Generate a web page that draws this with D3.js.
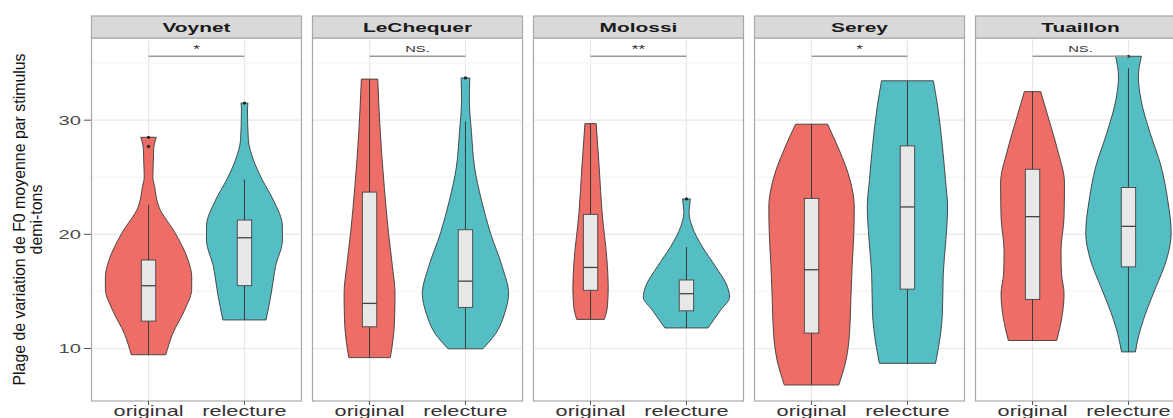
<!DOCTYPE html>
<html><head><meta charset="utf-8">
<script src="https://cdn.jsdelivr.net/npm/d3@7"></script>
<style>body{margin:0;background:#fff;} svg{display:block;font-family:"Liberation Sans",Arial,sans-serif;}</style>
</head><body><svg id="chart" width="1173" height="418"></svg>
<script>
// ---------- DATA ----------
const speakers = ["Voynet", "LeChequer", "Molossi", "Serey", "Tuaillon"];
const conditions = ["original", "relecture"];
const significance = ["*", "NS.", "**", "*", "NS."];
const yTicks = [10, 20, 30];
const yMinorTicks = [15, 25, 35];
const yTitleLines = ["Plage de variation de F0 moyenne par stimulus", "demi-tons"];

// violin profiles: [value (demi-tons), relative density]
const violinVoynetOriginal = [[28.5,.18],[27.5,.12],[26.2,.11],[25,.10],[24.2,.14],[22.4,.24],[20.1,.62],[17.7,.92],[16.3,1],[15.2,1],[13.4,.84],[11.3,.56],[9.45,.40]];
const violinVoynetRelecture = [[31.5,.08],[30.9,.07],[28.3,.09],[26.5,.21],[24.8,.41],[23,.67],[20.7,.88],[19.5,.88],[17.2,.72],[14.8,.62],[12.5,.50]];
const violinLeChequerOriginal = [[33.6,.19],[28.9,.25],[24.2,.34],[20.1,.44],[17.2,.53],[14.8,.59],[12.5,.58],[10.1,.52],[9.2,.48]];
const violinLeChequerRelecture = [[33.7,.10],[31.8,.09],[28.9,.14],[25.9,.21],[23,.37],[20.1,.58],[17.2,.85],[14.8,1],[13.1,.91],[11.3,.70],[9.97,.40]];
const violinMolossiOriginal = [[29.7,.13],[25.9,.20],[21.8,.27],[17.75,.38],[15.4,.41],[13.65,.39],[12.55,.32]];
const violinMolossiRelecture = [[23.1,.09],[22.4,.07],[21.9,.06],[20.7,.13],[18.9,.37],[17.2,.67],[15.4,.95],[14.5,1],[13.35,.79],[11.8,.50]];
const violinSereyOriginal = [[29.65,.37],[27.4,.64],[24.8,.89],[22.4,.99],[20.1,.98],[17.2,.94],[14.2,.91],[11.3,.88],[9.0,.80],[6.8,.63]];
const violinSereyRelecture = [[33.45,.60],[31.2,.70],[27.7,.81],[24.8,.88],[22.4,.93],[19.5,.89],[16.6,.83],[13.1,.81],[10.1,.72],[8.7,.65]];
const violinTuaillonOriginal = [[32.5,.19],[30.3,.36],[27.4,.58],[24.5,.74],[21.5,.73],[18.6,.66],[16.6,.67],[14.8,.73],[12.5,.67],[10.7,.56]];
const violinTuaillonRelecture = [[35.6,.30],[33.8,.23],[31.8,.29],[28.9,.50],[25.9,.76],[23,.91],[20.1,.99],[17.75,.88],[15.4,.64],[13.1,.40],[11,.23],[9.7,.16]];

// box stats: [lower whisker, Q1, median, Q3, upper whisker]
const boxVoynetOriginal = [9.45, 12.4, 15.5, 17.75, 22.6];
const boxVoynetRelecture = [12.5, 15.5, 19.7, 21.25, 24.8];
const boxLeChequerOriginal = [9.2, 11.9, 13.95, 23.7, 33.6];
const boxLeChequerRelecture = [10.0, 13.6, 15.9, 20.4, 29.9];
const boxMolossiOriginal = [12.55, 15.1, 17.1, 21.75, 29.7];
const boxMolossiRelecture = [11.8, 13.3, 14.8, 16.0, 18.9];
const boxSereyOriginal = [6.8, 11.35, 16.9, 23.15, 29.65];
const boxSereyRelecture = [8.7, 15.2, 22.4, 27.75, 33.45];
const boxTuaillonOriginal = [10.7, 14.3, 21.55, 25.7, 32.5];
const boxTuaillonRelecture = [9.7, 17.15, 20.7, 24.1, 34.55];

// outliers
const outVoynetOriginal = [28.5, 27.7];
const outVoynetRelecture = [31.5];
const outLeChequerOriginal = [];
const outLeChequerRelecture = [33.7];
const outMolossiOriginal = [];
const outMolossiRelecture = [23.1];
const outSereyOriginal = [];
const outSereyRelecture = [];
const outTuaillonOriginal = [];
const outTuaillonRelecture = [35.6];

const bracketValue = 35.6;

const violins = [
  [violinVoynetOriginal, violinVoynetRelecture],
  [violinLeChequerOriginal, violinLeChequerRelecture],
  [violinMolossiOriginal, violinMolossiRelecture],
  [violinSereyOriginal, violinSereyRelecture],
  [violinTuaillonOriginal, violinTuaillonRelecture]
];
const boxes = [
  [boxVoynetOriginal, boxVoynetRelecture],
  [boxLeChequerOriginal, boxLeChequerRelecture],
  [boxMolossiOriginal, boxMolossiRelecture],
  [boxSereyOriginal, boxSereyRelecture],
  [boxTuaillonOriginal, boxTuaillonRelecture]
];
const outliers = [
  [outVoynetOriginal, outVoynetRelecture],
  [outLeChequerOriginal, outLeChequerRelecture],
  [outMolossiOriginal, outMolossiRelecture],
  [outSereyOriginal, outSereyRelecture],
  [outTuaillonOriginal, outTuaillonRelecture]
];

// ---------- LAYOUT ----------
const svg = d3.select("#chart");
const SX = 1.55; // horizontal text stretch seen in the reference
const stripTop = 16, panelTop = 38, panelBottom = 401;
const facetX = d3.scaleBand().domain(speakers).range([91, 1186]).paddingInner(10 / 221).paddingOuter(0);
const pw = facetX.bandwidth();
const xCat = d3.scalePoint().domain(conditions).range([0, pw]).padding(0.6);
const step = xCat.step();
const y = d3.scaleLinear().domain([5.4, 37.2]).range([panelBottom, panelTop]);
const wScale = d3.scaleLinear().domain([0, 1]).range([0, 0.45 * step]);
const fills = d3.scaleOrdinal().domain(conditions).range(["#EE6D66", "#55BEC4"]);

function sText(g, x, yy, str, size, anchor, fill, weight) {
  return g.append("text")
    .attr("transform", `translate(${x},${yy}) scale(${SX},1)`)
    .attr("text-anchor", anchor).attr("font-size", size)
    .attr("fill", fill).attr("font-weight", weight || "normal")
    .text(str);
}

// y-axis title
const titleG = svg.append("g");
const cy = (panelTop + panelBottom) / 2;
[25, 42].forEach((bx, i) => {
  titleG.append("text")
    .attr("transform", `translate(${bx},${cy}) scale(1.12,1.12) rotate(-90)`)
    .attr("text-anchor", "middle").attr("font-size", 14.2).attr("fill", "#111")
    .text(yTitleLines[i]);
});

// y tick labels and ticks
const yAxisG = svg.append("g");
yTicks.forEach(t => {
  sText(yAxisG, 81, y(t) + 5, String(t), 13, "end", "#4d4d4d");
  yAxisG.append("line").attr("x1", 84).attr("x2", facetX(speakers[0])).attr("y1", y(t)).attr("y2", y(t))
    .attr("stroke", "#555").attr("stroke-width", 1);
});

const violinArea = d3.area()
  .curve(d3.curveMonotoneY);

speakers.forEach((sp, si) => {
  const x0 = facetX(sp);
  const g = svg.append("g").attr("transform", `translate(${x0},0)`);
  // panel bg
  g.append("rect").attr("x", 0).attr("y", panelTop).attr("width", pw).attr("height", panelBottom - panelTop).attr("fill", "#fff");
  // minor grid
  yMinorTicks.forEach(t => g.append("line").attr("x1", 0).attr("x2", pw).attr("y1", y(t)).attr("y2", y(t)).attr("stroke", "#f4f4f4").attr("stroke-width", 1));
  yTicks.forEach(t => g.append("line").attr("x1", 0).attr("x2", pw).attr("y1", y(t)).attr("y2", y(t)).attr("stroke", "#e8e8e8").attr("stroke-width", 1.2));
  conditions.forEach(c => g.append("line").attr("x1", xCat(c)).attr("x2", xCat(c)).attr("y1", panelTop).attr("y2", panelBottom).attr("stroke", "#e8e8e8").attr("stroke-width", 1.2));

  conditions.forEach((c, ci) => {
    const cx = xCat(c);
    const prof = violins[si][ci];
    g.append("path")
      .attr("d", violinArea
        .y(d => y(d[0]))
        .x0(d => cx - wScale(d[1]))
        .x1(d => cx + wScale(d[1]))(prof) + "")
      .attr("fill", fills(c)).attr("stroke", "#3a3a3a").attr("stroke-width", 0.9);
    const b = boxes[si][ci];
    const bw = 0.15 * step;
    g.append("line").attr("x1", cx).attr("x2", cx).attr("y1", y(b[0])).attr("y2", y(b[4]))
      .attr("stroke", "#3a3a3a").attr("stroke-width", 1);
    g.append("rect").attr("x", cx - bw / 2).attr("width", bw).attr("y", y(b[3])).attr("height", y(b[1]) - y(b[3]))
      .attr("fill", "#e8e8e8").attr("stroke", "#444").attr("stroke-width", 0.9);
    g.append("line").attr("x1", cx - bw / 2).attr("x2", cx + bw / 2).attr("y1", y(b[2])).attr("y2", y(b[2]))
      .attr("stroke", "#444").attr("stroke-width", 1.3);
    outliers[si][ci].forEach(o => g.append("circle").attr("cx", cx).attr("cy", y(o)).attr("r", 1.6).attr("fill", "#222"));
  });

  // significance bracket
  g.append("line").attr("x1", xCat(conditions[0])).attr("x2", xCat(conditions[1]))
    .attr("y1", y(bracketValue)).attr("y2", y(bracketValue)).attr("stroke", "#9a9a9a").attr("stroke-width", 1.4);
  const midX = (xCat(conditions[0]) + xCat(conditions[1])) / 2;
  const isStar = significance[si].includes("*");
  sText(g, midX, isStar ? 53 : 51.5, significance[si], isStar ? 11 : 9.5, "middle", "#333");

  // panel border
  g.append("rect").attr("x", 0.5).attr("y", panelTop).attr("width", pw - 1).attr("height", panelBottom - panelTop)
    .attr("fill", "none").attr("stroke", "#a8a8a8").attr("stroke-width", 1.2);
  // strip
  g.append("rect").attr("x", 0.5).attr("y", stripTop).attr("width", pw - 1).attr("height", panelTop - stripTop)
    .attr("fill", "#d9d9d9").attr("stroke", "#a8a8a8").attr("stroke-width", 1.2);
  sText(g, pw / 2, 32, sp, 13.5, "middle", "#1a1a1a", "bold");

  // x ticks and labels
  conditions.forEach(c => {
    g.append("line").attr("x1", xCat(c)).attr("x2", xCat(c)).attr("y1", panelBottom).attr("y2", panelBottom + 4)
      .attr("stroke", "#555").attr("stroke-width", 1);
    sText(g, xCat(c), 416, c, 14, "middle", "#333");
  });
});
</script></body></html>
